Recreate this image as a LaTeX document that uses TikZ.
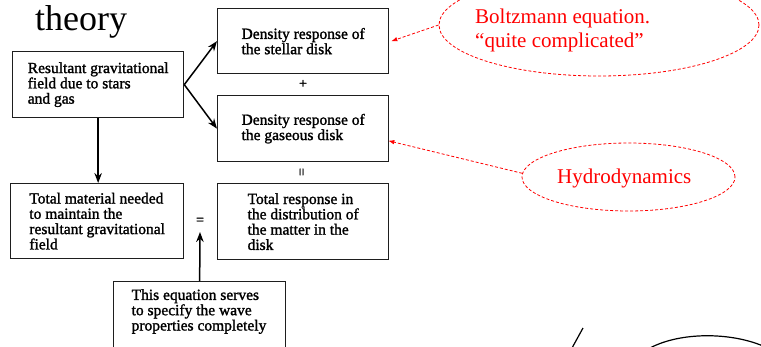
\documentclass[tikz,border=0pt]{standalone}
\usepackage{fontspec}
\setmainfont{Liberation Serif}
\newfontfamily\bookfont[FakeBold=1.5]{Liberation Serif}
\usetikzlibrary{arrows.meta,shapes.geometric}
\definecolor{annot}{RGB}{255,0,0}
\definecolor{boxline}{RGB}{30,30,30}
\begin{document}
\begin{tikzpicture}[x=1pt,y=-1pt,
  box/.style={draw=boxline,line width=1.3pt,inner sep=0pt,align=left,anchor=north west,
    font=\bookfont\fontsize{15.5}{15.3}\selectfont},
  arr/.style={line width=1.5pt,-{Stealth[length=10pt,width=7.5pt]}},
  sym/.style={inner sep=0pt,font=\bookfont\fontsize{14}{14}\selectfont},
  redbubble/.style={ellipse,draw=annot,line width=0.8pt,dash pattern=on 3pt off 2pt,inner sep=0pt},
  redarr/.style={draw=annot,line width=0.8pt,dash pattern=on 3pt off 2pt,-{Latex[length=6pt,width=4.5pt]}},
  redtext/.style={text=annot,inner sep=0pt,align=left,font=\fontsize{21}{24.5}\selectfont}]
\useasboundingbox (0,0) rectangle (761,346);

\node[anchor=base west,inner sep=0pt,font=\fontsize{36}{36}\selectfont] (title) at (35,30) {theory};

\node[box,minimum width=171pt,minimum height=66pt] (A) at (12,51)
  {Resultant gravitational\\field due to stars\\and gas};
\node[box,minimum width=171pt,minimum height=65pt] (B) at (217,8)
  {Density response of\\the stellar disk};
\node[box,minimum width=171pt,minimum height=66pt] (C) at (217,95)
  {Density response of\\the gaseous disk};
\node[box,minimum width=173pt,minimum height=75pt] (D) at (10,183)
  {Total material needed\\to maintain the\\resultant gravitational\\field};
\node[box,minimum width=171pt,minimum height=76pt] (E) at (217,183)
  {Total response in\\the distribution of\\the matter in the\\disk};
\node[box,minimum width=172pt,minimum height=70pt] (F) at (113,281) {};
\node[inner sep=0pt,align=left,font=\bookfont\fontsize{15.5}{15.3}\selectfont] (Ftext) at (199,311.5)
  {This equation serves\\to specify the wave\\properties completely};

\node[sym] (plus) at (303,84) {+};
\node[sym,rotate=90] (eqv) at (303,172) {=};
\node[sym] (eqh) at (200,221) {=};
\coordinate (Ftip) at (200,232);

\draw[arr] (A.east) -- (B.west);
\draw[arr] (A.east) -- (C.west);
\draw[arr] (A.south) -- (A.south |- D.north);
\draw[arr] (F.north) -- (Ftip);

\node[redbubble,minimum width=320pt,minimum height=102pt] (boltz) at (599,25) {};
\node[redtext,anchor=west] (boltztext) at (475,30.6) {Boltzmann equation.\\``quite complicated''};
\node[redbubble,minimum width=213pt,minimum height=68pt] (hydro) at (628.5,177) {};
\node[redtext,anchor=base west] (hydrotext) at (557,183) {Hydrodynamics};

\draw[redarr] (boltz.west) -- ([xshift=2pt]B.east);
\draw[redarr] (hydro.178) -- ([xshift=-1pt]C.-8.6);

\draw[line width=1.2pt] (572,348) -- (583,328);
\draw[line width=1.2pt] (650,348) .. controls (680,332) and (730,332) .. (763,346);
\end{tikzpicture}
\end{document}
